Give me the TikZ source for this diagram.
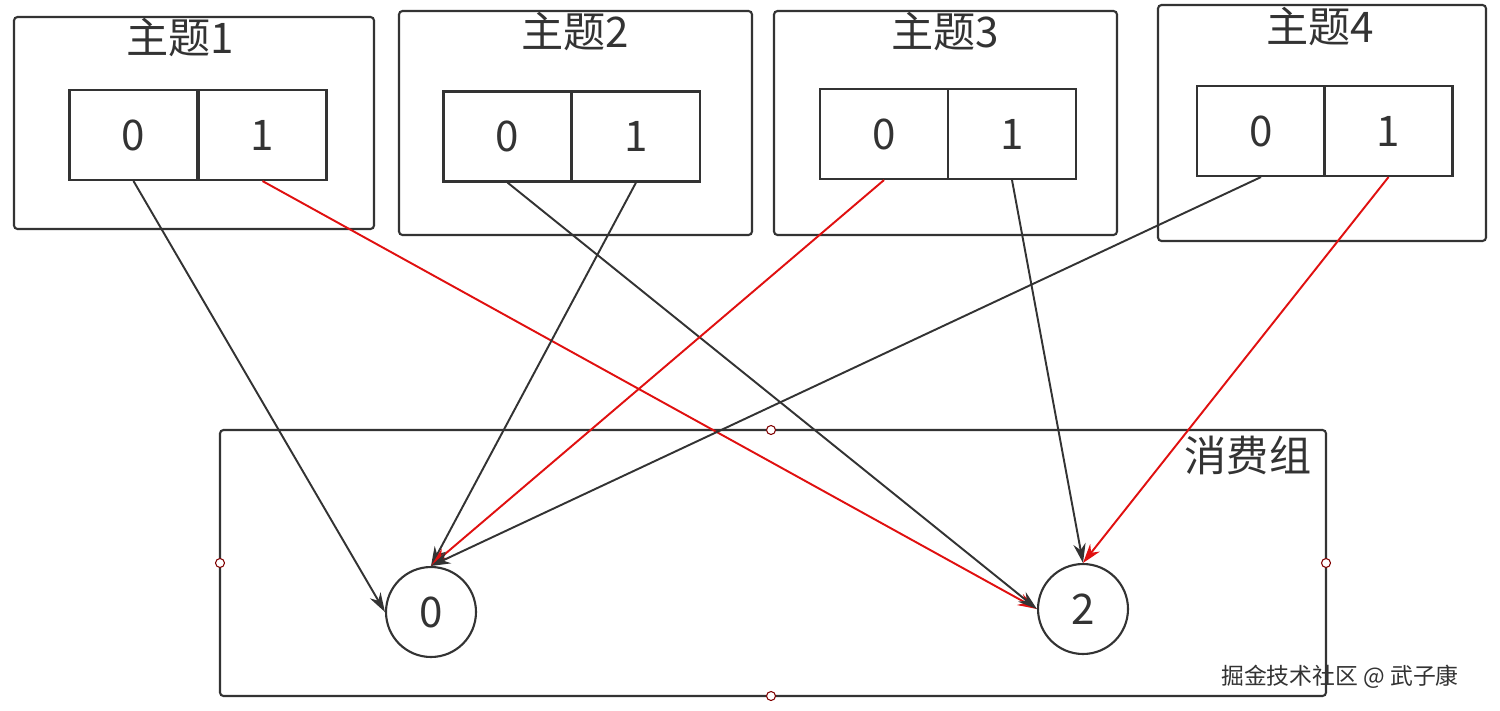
\documentclass[tikz,border=0pt]{standalone}
\usepackage{fontspec}
\setmainfont{Noto Sans CJK SC}
\usetikzlibrary{arrows.meta}
\definecolor{dk}{HTML}{333333}
\definecolor{rd}{HTML}{E01010}
\begin{document}
\begin{tikzpicture}[x=0.02cm,y=-0.02cm,
  frame/.style={draw=dk,line width=1.2pt,rounded corners=2pt},
  cell/.style={draw=dk,line width=1.2pt,minimum width=2.56cm,minimum height=1.8cm,inner sep=0pt,font=\fontsize{24}{24}\selectfont,text=dk},
  ttl/.style={font=\fontsize{24}{24}\selectfont,text=dk},
  cons/.style={circle,draw=dk,line width=1.2pt,minimum size=1.8cm,inner sep=0pt,font=\fontsize{24}{24}\selectfont,text=dk},
  handle/.style={circle,draw=red!50!black,fill=white,line width=0.6pt,minimum size=0.18cm,inner sep=0pt},
  blk/.style={draw=dk,line width=1.1pt,-{Stealth[length=11pt,width=7pt]}},
  red/.style={draw=rd,line width=1.1pt,-{Stealth[length=11pt,width=7pt]}}]
\useasboundingbox (0,0) rectangle (1500,710);
% topic frames
\draw[frame] (14,17) rectangle (374,229);
\draw[frame] (399,11) rectangle (752,235);
\draw[frame] (774,11) rectangle (1117,235);
\draw[frame] (1158,5) rectangle (1486,241);
\node[ttl] (t1) at (180,38) {主题1};
\node[ttl] (t2) at (575,32) {主题2};
\node[ttl] (t3) at (945,32) {主题3};
\node[ttl] (t4) at (1320,27) {主题4};
% cells
\node[cell] (a0) at (133.5,135) {0};
\node[cell] (a1) at (262.5,135) {1};
\node[cell] (b0) at (507.5,136.5) {0};
\node[cell] (b1) at (636,136.5) {1};
\node[cell] (c0) at (884,134) {0};
\node[cell] (c1) at (1012,134) {1};
\node[cell] (d0) at (1261,131) {0};
\node[cell] (d1) at (1388.5,131) {1};
% consumer group
\draw[dk,line width=1.2pt,rounded corners=2pt] (220,430) rectangle (1326,696);
\node[ttl] (cg) at (1248,455) {消费组};
\node[cons] (k0) at (431,612) {0};
\node[cons] (k2) at (1083,609) {2};
\node[handle] (h1) at (771,430) {};
\node[handle] (h2) at (220,563) {};
\node[handle] (h3) at (1326,563) {};
\node[handle] (h4) at (771,696) {};
\node[font=\fontsize{13}{13}\selectfont,text=dk] (wm) at (1340,677) {掘金技术社区 @ 武子康};
% connectors
\draw[blk] (a0.south) -- (k0.west);
\draw[red] (a1.south) -- (k2.west);
\draw[blk] (b0.south) -- (k2.west);
\draw[blk] (b1.south) -- (k0.north);
\draw[red] (c0.south) -- (k0.north);
\draw[blk] (c1.south) -- (k2.north);
\draw[blk] (d0.south) -- (k0.north);
\draw[red] (d1.south) -- (k2.north);
\end{tikzpicture}
\end{document}
